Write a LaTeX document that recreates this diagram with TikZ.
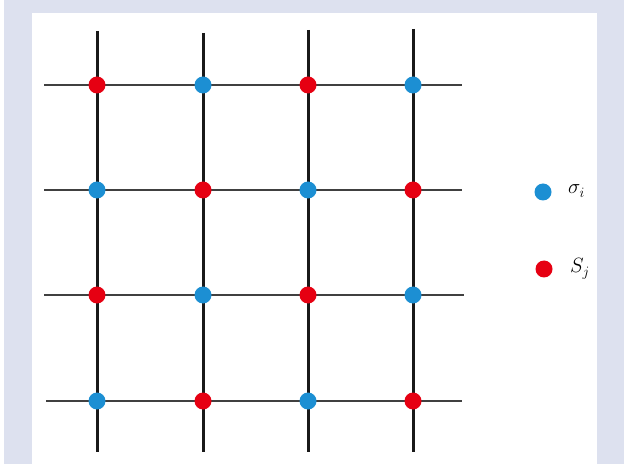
\documentclass[tikz,border=0pt]{standalone}
\usepackage{amsmath, amssymb}
\usepackage{xcolor}
\usepackage{tikz}
\usetikzlibrary{positioning}

\definecolor{frame}{HTML}{DDE1EF}
\definecolor{spinred}{HTML}{E60012}
\definecolor{spinblue}{HTML}{1C8FD3}

\begin{document}
\begin{tikzpicture}[
    x=1bp, y=-1bp,
    sig/.style   = {circle, fill=spinblue, inner sep=0pt, minimum size=17bp},
    spn/.style   = {circle, fill=spinred, inner sep=0pt, minimum size=17bp},
    vline/.style = {line width=3bp, black!90},
    hline/.style = {line width=2bp, black!75},
    lab/.style   = {anchor=base west, inner sep=0pt, font=\huge}
]

% ---- Frame ----
\fill[frame] (0,0) rectangle (624,464);
\fill[white] (0,0) rectangle (4,464);
\fill[white] (32,13) rectangle (597,464);
\useasboundingbox (0,0) rectangle (624,464);

% ---- Line ends ----
\coordinate (t1) at (97,31);   \coordinate (b1) at (97,452);
\coordinate (t2) at (203,33);  \coordinate (b2) at (203,452);
\coordinate (t3) at (308,30);  \coordinate (b3) at (308,452);
\coordinate (t4) at (413,29);  \coordinate (b4) at (413,452);
\coordinate (l1) at (44,85);   \coordinate (r1) at (462,85);
\coordinate (l2) at (44,190);  \coordinate (r2) at (462,190);
\coordinate (l3) at (44,295);  \coordinate (r3) at (464,295);
\coordinate (l4) at (46,401);  \coordinate (r4) at (462,401);

% ---- Lattice lines ----
\draw[hline] (l1) -- (r1);
\draw[hline] (l2) -- (r2);
\draw[hline] (l3) -- (r3);
\draw[hline] (l4) -- (r4);
\draw[vline] (t1) -- (b1);
\draw[vline] (t2) -- (b2);
\draw[vline] (t3) -- (b3);
\draw[vline] (t4) -- (b4);

% ---- Sites ----
\node[spn] (s11) at (97,85)  {};
\node[sig] (s12) at (203,85) {};
\node[spn] (s13) at (308,85) {};
\node[sig] (s14) at (413,85) {};

\node[sig] (s21) at (97,190)  {};
\node[spn] (s22) at (203,190) {};
\node[sig] (s23) at (308,190) {};
\node[spn] (s24) at (413,190) {};

\node[spn] (s31) at (97,295)  {};
\node[sig] (s32) at (203,295) {};
\node[spn] (s33) at (308,295) {};
\node[sig] (s34) at (413,295) {};

\node[sig] (s41) at (97,401)  {};
\node[spn] (s42) at (203,401) {};
\node[sig] (s43) at (308,401) {};
\node[spn] (s44) at (413,401) {};

% ---- Legend ----
\node[sig] (keysig) at (543,192) {};
\node[spn] (keyspn) at (544,269) {};
\node[lab] (labsig) at (568,194) {$\sigma_i$};
\node[lab] (labspn) at (570,273) {$S_j$};

\end{tikzpicture}
\end{document}
